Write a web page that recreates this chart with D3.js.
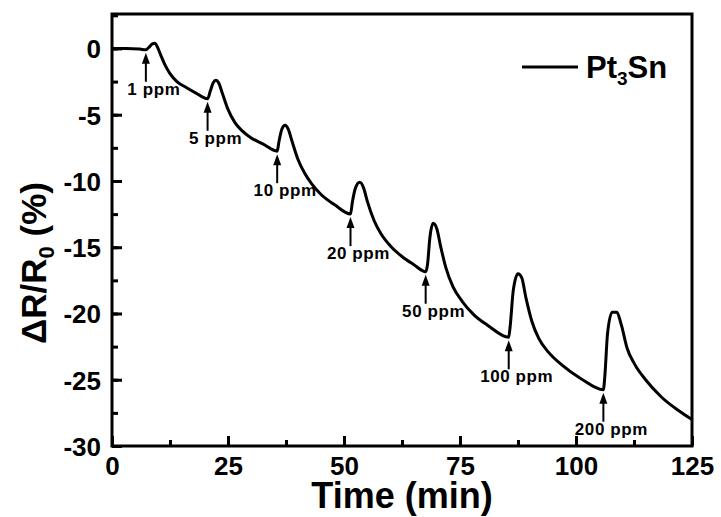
<!DOCTYPE html>
<html>
<head>
<meta charset="utf-8">
<script src="https://cdn.jsdelivr.net/npm/d3@7"></script>
<style>
  html, body { margin: 0; padding: 0; background: #fff; }
  svg text { font-family: "Liberation Sans", Arial, sans-serif; font-weight: bold; fill: #000; }
</style>
</head>
<body>
<div id="chart"></div>
<script>
// sensor response, time in min, dR/R0 in %
const timeMin = [
  0, 3, 6, 7.3, 8, 8.7, 9.3, 9.8, 10.5, 11.5, 12.5, 14, 16, 18, 20.6,
  21.2, 21.8, 22.4, 23, 23.8, 25, 26.5, 28, 30, 32.5, 35.6,
  36, 36.6, 37.3, 38, 38.8, 40, 41.5, 43, 45, 48, 51.4,
  51.8, 52.5, 53.4, 54.2, 55, 56.5, 58, 60, 62.5, 65, 67.6,
  68, 68.5, 69.2, 70, 70.8, 72, 73.5, 75.5, 78, 81, 85.5,
  85.8, 86.5, 87.5, 88.3, 89.2, 90.5, 92, 94, 97, 101, 105.9,
  106.2, 106.8, 107.8, 108.8, 109.8, 111, 112.6, 115, 118.4, 122, 125
];
const response = [
  0, 0, -0.05, -0.1, 0.1, 0.35, 0.4, 0.1, -0.5, -1.3, -1.9, -2.5, -2.95, -3.35, -3.8,
  -3.2, -2.6, -2.4, -2.6, -3.4, -4.6, -5.6, -6.2, -6.75, -7.2, -7.75,
  -7.0, -6.1, -5.8, -6.1, -7.0, -8.3, -9.4, -10.2, -11.0, -11.8, -12.5,
  -11.6, -10.5, -10.1, -10.5, -11.5, -13.0, -14.0, -14.9, -15.7, -16.3, -16.85,
  -16.3, -14.3, -13.2, -13.6, -14.9, -16.6, -18.0, -19.1, -20.1, -20.9, -21.8,
  -21.0, -18.2, -17.0, -17.3, -18.8, -20.6, -21.9, -22.9, -23.9, -24.9, -25.75,
  -24.8, -21.5, -19.9, -19.9, -20.9, -22.6, -23.8, -25.0, -26.3, -27.3, -28.0
];

// gas injections
const injectTime = [7.3, 20.6, 35.6, 51.4, 67.6, 85.5, 105.9];
const injectValue = [-0.1, -3.8, -7.75, -12.5, -16.85, -21.8, -25.75];
const injectLabel = ["1 ppm", "5 ppm", "10 ppm", "20 ppm", "50 ppm", "100 ppm", "200 ppm"];

const xTicks = [0, 25, 50, 75, 100, 125];
const yTicks = [0, -5, -10, -15, -20, -25, -30];

const width = 721, height = 517;
const margin = { top: 14, right: 29, bottom: 71, left: 112 };
const iw = width - margin.left - margin.right;
const ih = height - margin.top - margin.bottom;

const svg = d3.select("#chart").append("svg")
  .attr("width", width)
  .attr("height", height);

const g = svg.append("g")
  .attr("transform", `translate(${margin.left},${margin.top})`);

const x = d3.scaleLinear().domain([0, 125]).range([0, iw]);
const y = d3.scaleLinear().domain([-30, 2.6]).range([ih, 0]);

// ticks point inward
const minorX = d3.range(0, 126, 12.5);
const minorY = d3.range(-30, 2.6, 2.5);
const plain = d => String(d);  // hyphen minus like the original

const xAxis = g.append("g").attr("transform", `translate(0,${ih})`);
xAxis.call(d3.axisBottom(x).tickValues(minorX).tickSize(-6).tickFormat(""));
xAxis.append("g").call(d3.axisBottom(x).tickValues(xTicks).tickSize(-10).tickPadding(11).tickFormat(plain))
  .selectAll("text").attr("font-size", "26px").attr("fill", "#000");

const yAxis = g.append("g");
yAxis.call(d3.axisLeft(y).tickValues(minorY).tickSize(-6).tickFormat(""));
yAxis.append("g").call(d3.axisLeft(y).tickValues(yTicks).tickSize(-10).tickPadding(11).tickFormat(plain))
  .selectAll("text").attr("font-size", "26px").attr("fill", "#000").attr("dy", "0.36em");

g.selectAll(".domain").remove();
g.selectAll(".tick line").attr("stroke", "#000").attr("stroke-width", 3);

g.append("rect")
  .attr("width", iw)
  .attr("height", ih)
  .attr("fill", "none")
  .attr("stroke", "#000")
  .attr("stroke-width", 3);

const points = timeMin.map((t, i) => [t, response[i]]);
const line = d3.line()
  .x(d => x(d[0]))
  .y(d => y(d[1]))
  .curve(d3.curveMonotoneX);

g.append("path")
  .datum(points)
  .attr("fill", "none")
  .attr("stroke", "#000")
  .attr("stroke-width", 3)
  .attr("stroke-linejoin", "round")
  .attr("d", line);

// arrows + labels
const arrows = g.append("g");
injectTime.forEach((t, i) => {
  const ax = x(t), ay = y(injectValue[i]) + 3;
  arrows.append("line")
    .attr("x1", ax).attr("x2", ax)
    .attr("y1", ay + 8).attr("y2", ay + 29)
    .attr("stroke", "#000").attr("stroke-width", 2);
  arrows.append("path")
    .attr("d", `M${ax},${ay} L${ax - 4},${ay + 11} L${ax + 4},${ay + 11} Z`)
    .attr("fill", "#000");
  arrows.append("text")
    .attr("x", ax + 8)
    .attr("y", ay + 42)
    .attr("text-anchor", "middle")
    .attr("font-size", "17px")
    .attr("letter-spacing", "0.6px")
    .text(injectLabel[i]);
});

// legend
const lg = g.append("g").attr("transform", `translate(${522 - margin.left},${67 - margin.top})`);
lg.append("line").attr("x1", 0).attr("x2", 56).attr("stroke", "#000").attr("stroke-width", 3);
const lt = lg.append("text").attr("x", 64).attr("y", 11).attr("font-size", "31px");
lt.append("tspan").text("Pt");
lt.append("tspan").attr("font-size", "19px").attr("dy", 7).text("3");
lt.append("tspan").attr("dy", -7).text("Sn");

// axis titles
svg.append("text")
  .attr("x", margin.left + iw / 2)
  .attr("y", 508)
  .attr("text-anchor", "middle")
  .attr("font-size", "36px")
  .text("Time (min)");

const yt = svg.append("text")
  .attr("transform", `translate(46,263) rotate(-90)`)
  .attr("text-anchor", "middle")
  .attr("font-size", "35px");
yt.append("tspan").text("ΔR/R");
yt.append("tspan").attr("font-size", "22px").attr("dy", 8).text("0");
yt.append("tspan").attr("dy", -8).text(" (%)");
</script>
</body>
</html>
